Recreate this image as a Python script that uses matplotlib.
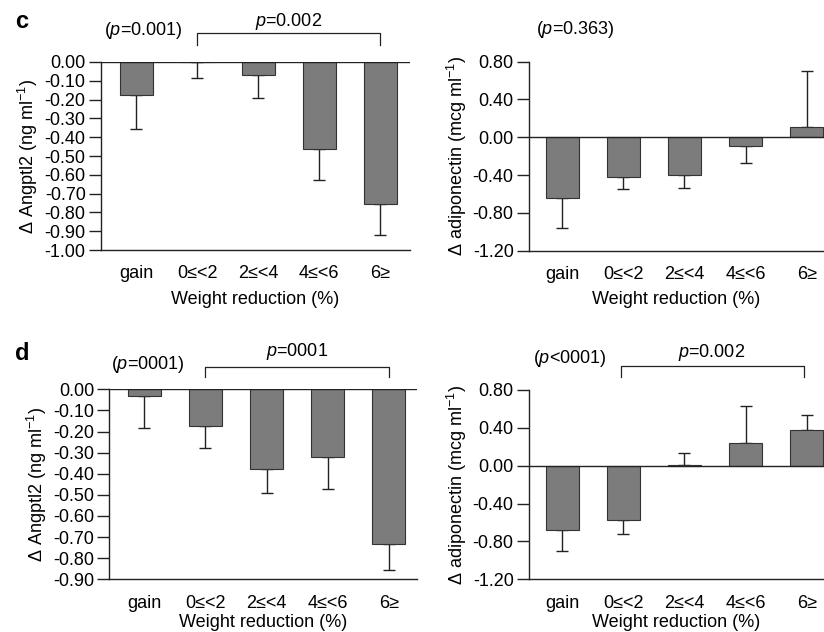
import matplotlib
matplotlib.use('Agg')
import matplotlib.pyplot as plt
import matplotlib.transforms as mtransforms
import numpy as np

plt.rcParams['font.family'] = ['Liberation Sans', 'DejaVu Sans']
plt.rcParams['mathtext.fontset'] = 'custom'
plt.rcParams['mathtext.rm'] = 'Liberation Sans'
plt.rcParams['mathtext.it'] = 'Liberation Sans:italic'
plt.rcParams['axes.unicode_minus'] = False

groups = ['gain', '0≤<2', '2≤<4', '4≤<6', '6≥']

# panel c: change in Angptl2 / adiponectin, one-sided error bars
c_angptl2 = [-0.173, -0.002, -0.071, -0.464, -0.757]
c_angptl2_err = [0.181, 0.081, 0.118, 0.164, 0.165]
c_adipo = [-0.639, -0.416, -0.395, -0.092, 0.113]
c_adipo_err = [0.324, 0.131, 0.141, 0.176, 0.587]

# panel d
d_angptl2 = [-0.030, -0.174, -0.378, -0.322, -0.731]
d_angptl2_err = [0.153, 0.106, 0.112, 0.150, 0.125]
d_adipo = [-0.676, -0.577, 0.002, 0.243, 0.373]
d_adipo_err = [0.225, 0.141, 0.135, 0.383, 0.158]

ang_ticks_c = np.round(np.arange(0, -1.01, -0.1), 2)
ang_ticks_d = np.round(np.arange(0, -0.91, -0.1), 2)
adipo_ticks = [0.8, 0.4, 0.0, -0.4, -0.8, -1.2]

BAR = '#7c7c7c'
FS = 13


def draw_panel(ax, vals, errs, yticks, ylabel, xlim, xpad=6):
    x = np.arange(len(groups))
    vals = np.array(vals)
    errs = np.array(errs)
    lo = np.where(vals < 0, errs, 0)
    hi = np.where(vals >= 0, errs, 0)
    ax.bar(x, vals, width=0.54, color=BAR, edgecolor='#333333', linewidth=0.8, zorder=2)
    ax.errorbar(x, vals, yerr=[lo, hi], fmt='none', ecolor='#222222',
                elinewidth=1.0, capsize=4.5, capthick=1.0, zorder=1)
    ax.axhline(0, color='#222222', lw=1.0, zorder=3)
    ax.set_xlim(*xlim)
    ax.set_ylim(min(yticks), max(yticks))
    ax.set_yticks(yticks)
    ax.set_yticklabels(['%.2f' % t for t in yticks], fontsize=FS)
    ax.set_xticks(x)
    ax.set_xticklabels(groups, fontsize=FS)
    ax.tick_params(axis='x', length=0, pad=11)
    ax.tick_params(axis='y', length=9, width=1.0, pad=2, color='#222222')
    for s in ['top', 'right']:
        ax.spines[s].set_visible(False)
    for s in ['left', 'bottom']:
        ax.spines[s].set_linewidth(1.0)
        ax.spines[s].set_color('#222222')
    ax.set_xlabel('Weight reduction (%)', fontsize=FS, labelpad=xpad)
    ax.set_ylabel(ylabel, fontsize=FS, labelpad=3)


def bracket(ax, x0, x1, y, ytick):
    tr = mtransforms.blended_transform_factory(ax.transData, ax.transAxes)
    ax.plot([x0, x0, x1, x1], [ytick, y, y, ytick], color='#222222', lw=0.9,
            transform=tr, clip_on=False)
    return tr


fig = plt.figure(figsize=(8.24, 6.32), dpi=100)

ax1 = fig.add_axes([0.1226, 0.6044, 0.375, 0.2975])
ax2 = fig.add_axes([0.642, 0.6033, 0.358, 0.2991])
ax3 = fig.add_axes([0.1327, 0.0834, 0.3733, 0.3006])
ax4 = fig.add_axes([0.642, 0.0834, 0.358, 0.2996])

ang_label = r'$\mathit{\Delta}$ Angptl2 (ng ml$^{-1}$)'
adi_label = r'$\mathit{\Delta}$ adiponectin (mcg ml$^{-1}$)'

draw_panel(ax1, c_angptl2, c_angptl2_err, ang_ticks_c, ang_label, (-0.574, 4.49))
draw_panel(ax2, c_adipo, c_adipo_err, adipo_ticks, adi_label, (-0.54, 4.28))
draw_panel(ax3, d_angptl2, d_angptl2_err, ang_ticks_d, ang_label, (-0.567, 4.457), xpad=2)
draw_panel(ax4, d_adipo, d_adipo_err, adipo_ticks, adi_label, (-0.54, 4.28), xpad=2)

# p-value annotations
tr = bracket(ax1, 1, 4, 1.153, 1.09)
ax1.text(2.5, 1.213, r'$p$=0.002', transform=tr, ha='center', va='center', fontsize=FS)
ax1.text(0.115, 1.17, r'($p$=0.001)', transform=tr, ha='center', va='center', fontsize=FS)

tr = mtransforms.blended_transform_factory(ax2.transData, ax2.transAxes)
ax2.text(0.21, 1.168, r'($p$=0.363)', transform=tr, ha='center', va='center', fontsize=FS)

tr = bracket(ax3, 1, 4, 1.119, 1.065)
ax3.text(2.5, 1.198, r'$p$=0001', transform=tr, ha='center', va='center', fontsize=FS)
ax3.text(0.057, 1.128, r'($p$=0001)', transform=tr, ha='center', va='center', fontsize=FS)

tr = bracket(ax4, 0.97, 3.95, 1.127, 1.067)
ax4.text(2.45, 1.2, r'$p$=0.002', transform=tr, ha='center', va='center', fontsize=FS)
ax4.text(0.13, 1.167, r'($p$<0001)', transform=tr, ha='center', va='center', fontsize=FS)

fig.text(22 / 824, 1 - 22 / 632, 'c', fontsize=17, fontweight='bold', ha='center', va='center')
fig.text(22 / 824, 1 - 353 / 632, 'd', fontsize=17, fontweight='bold', ha='center', va='center')

fig.savefig('out.png', dpi=100)
